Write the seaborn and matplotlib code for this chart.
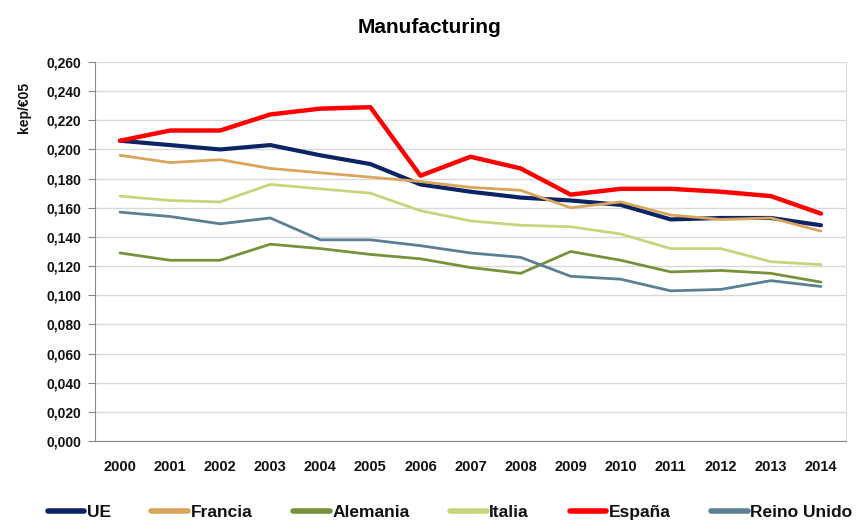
import numpy as np
import pandas as pd
import seaborn as sns
import matplotlib.pyplot as plt
from matplotlib.ticker import FuncFormatter

years = [str(y) for y in range(2000, 2015)]

ue = [0.206, 0.203, 0.200, 0.203, 0.196, 0.190, 0.176, 0.171, 0.167, 0.165, 0.162, 0.152, 0.153, 0.153, 0.148]
francia = [0.196, 0.191, 0.193, 0.187, 0.184, 0.181, 0.178, 0.174, 0.172, 0.160, 0.164, 0.155, 0.152, 0.153, 0.144]
alemania = [0.129, 0.124, 0.124, 0.135, 0.132, 0.128, 0.125, 0.119, 0.115, 0.130, 0.124, 0.116, 0.117, 0.115, 0.109]
italia = [0.168, 0.165, 0.164, 0.176, 0.173, 0.170, 0.158, 0.151, 0.148, 0.147, 0.142, 0.132, 0.132, 0.123, 0.121]
espana = [0.206, 0.213, 0.213, 0.224, 0.228, 0.229, 0.182, 0.195, 0.187, 0.169, 0.173, 0.173, 0.171, 0.168, 0.156]
reino_unido = [0.157, 0.154, 0.149, 0.153, 0.138, 0.138, 0.134, 0.129, 0.126, 0.113, 0.111, 0.103, 0.104, 0.110, 0.106]

series = {"UE": ue, "Francia": francia, "Alemania": alemania,
          "Italia": italia, "España": espana, "Reino Unido": reino_unido}
colors = {"UE": "#0c2466", "Francia": "#d9a45c", "Alemania": "#76933c",
          "Italia": "#c9d37c", "España": "#ff0000", "Reino Unido": "#5b8093"}
widths = {"UE": 3.0, "Francia": 2.0, "Alemania": 2.0,
          "Italia": 2.0, "España": 3.2, "Reino Unido": 2.0}

df = pd.concat([pd.DataFrame({"year": years, "value": v, "pais": k}) for k, v in series.items()],
               ignore_index=True)

sns.set_style("white")
plt.rcParams['font.family'] = ['Liberation Sans', 'DejaVu Sans']
plt.rcParams['text.color'] = "#111111"

fig = plt.figure(figsize=(8.59, 5.2), dpi=100)
ax = fig.add_axes([95 / 859, 1 - 441 / 520, 751 / 859, 379 / 520])

sns.lineplot(data=df, x="year", y="value", hue="pais", palette=colors, ax=ax, legend=False)
for line, name in zip(ax.get_lines(), series.keys()):
    line.set_linewidth(widths[name])
    line.set_solid_joinstyle("round")

ax.set_ylim(0, 0.26)
ax.set_yticks(np.arange(0, 0.2601, 0.02))
ax.yaxis.set_major_formatter(FuncFormatter(lambda v, p: f"{v:.3f}".replace(".", ",")))
ax.set_xlim(-0.5, 14.5)
ax.grid(axis="y", color="#d9d9d9", linewidth=1)
ax.set_axisbelow(True)

ax.spines["top"].set_visible(False)
ax.spines["right"].set_color("#d9d9d9")
ax.spines["left"].set_color("#888888")
ax.spines["bottom"].set_color("#888888")

ax.set_xticks(np.arange(-0.5, 15, 1), minor=True)
ax.tick_params(axis="x", which="minor", length=5, color="#888888", width=1, direction="out")
ax.tick_params(axis="x", which="major", length=0, pad=14)
ax.tick_params(axis="y", length=5, color="#888888", direction="out", left=True, pad=5)
for lab in ax.get_yticklabels():
    lab.set_fontweight("bold")
    lab.set_fontsize(10)
    lab.set_color("#111111")
for lab in ax.get_xticklabels():
    lab.set_fontweight("bold")
    lab.set_fontsize(10.5)
    lab.set_color("#111111")

ax.set_xlabel("")
ax.set_ylabel("kep/€05", fontweight="bold", fontsize=10, color="#111111")
ax.yaxis.set_label_coords(-0.085, 0.88)

fig.suptitle("Manufacturing", fontweight="bold", fontsize=15, y=0.965, color="black")

handles = [plt.Line2D([], [], color=colors[k], linewidth=4) for k in series]
fig.legend(handles, list(series.keys()), loc="lower center", ncol=6, frameon=False,
           bbox_to_anchor=(0.524, -0.03), handlelength=2.1, handletextpad=0.15, columnspacing=2.35,
           prop={"weight": "bold", "size": 12.5})

fig.savefig("out.png", dpi=100)
